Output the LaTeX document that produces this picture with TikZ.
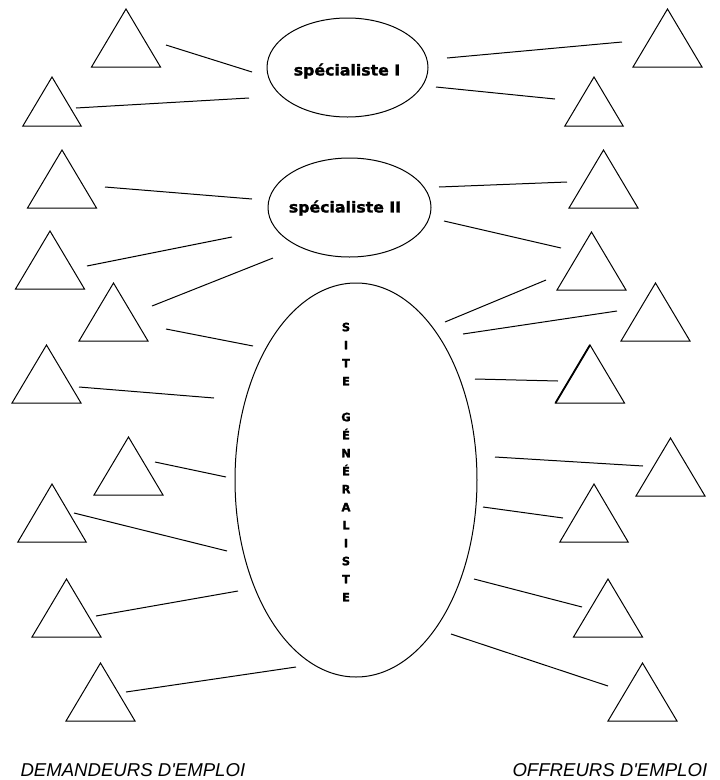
\documentclass[tikz,border=0pt]{standalone}
\usepackage{fontspec}
\usetikzlibrary{shapes.geometric}
\newfontfamily\heavyfont[BoldFeatures={FakeBold=1.6}]{DejaVu Sans}
\newfontfamily\captionfont{Liberation Sans}
\begin{document}
\begin{tikzpicture}[x=1pt,y=-1pt,
  every path/.style={line width=1pt},
  link/.style={draw=black, line width=1pt},
  oval/.style={ellipse, draw=black, line width=1pt, inner sep=0pt},
  ovaltext/.style={font=\heavyfont\bfseries\fontsize{15}{18}\selectfont},
  vtext/.style={font=\heavyfont\bfseries\fontsize{11.5}{18}\selectfont, align=center, inner sep=0pt},
  groupname/.style={font=\captionfont\itshape\fontsize{18.6}{20}\selectfont, inner sep=0pt},
  tri/.pic={\draw[line width=1pt, line join=miter] (0,0) -- (-34.5,58) -- (34.5,58) -- cycle;}
]
\useasboundingbox (0,0) rectangle (720,780);
\fill[white] (0,0) rectangle (720,780);

% ellipses
\node[oval, minimum width=161pt, minimum height=99pt] (spec1) at (347.5,67.5) {};
\node[ovaltext] (spec1t) at (347,71) {\scalebox{1.05}[1]{spécialiste I}};
\node[oval, minimum width=163pt, minimum height=99pt] (spec2) at (349.5,207.5) {};
\node[ovaltext] (spec2t) at (345,208) {\scalebox{1.05}[1]{spécialiste II}};
\node[oval, minimum width=242pt, minimum height=394pt] (site) at (356,480) {};
\node[vtext] (sitet) at (346,462) {S\\I\\T\\E\\[18pt]G\\É\\N\\É\\R\\A\\L\\I\\S\\T\\E};

% left triangles (demandeurs)
\pic at (126,9) {tri};
\pic[scale=0.845] at (52,77) {tri};
\pic at (62,150) {tri};
\pic at (50,231) {tri};
\pic at (113.5,283) {tri};
\pic at (46.5,345) {tri};
\pic at (128.5,437) {tri};
\pic[xscale=0.99] at (52,484) {tri};
\pic at (66.5,579) {tri};
\pic at (100.5,663) {tri};

% right triangles (offreurs)
\pic at (667.5,9) {tri};
\pic[scale=0.845] at (594,77) {tri};
\pic at (603.5,150) {tri};
\pic at (591.5,232) {tri};
\pic at (655.5,283) {tri};
\pic at (590,345) {tri};
\draw[line width=1.8pt] (590,345) -- (555.5,403);
\pic at (670.5,438) {tri};
\pic[xscale=0.99] at (594,484) {tri};
\pic at (608,579) {tri};
\pic at (642.5,663) {tri};

% connector end points, left
\coordinate (l1a) at (166,45);  \coordinate (l1b) at (252,72);
\coordinate (l2a) at (76,108);  \coordinate (l2b) at (249,98);
\coordinate (l3a) at (105,187); \coordinate (l3b) at (252,199);
\coordinate (l4a) at (87,266);  \coordinate (l4b) at (232,237);
\coordinate (l5a) at (152,306); \coordinate (l5b) at (273,258);
\coordinate (l6a) at (166,329); \coordinate (l6b) at (253,346);
\coordinate (l7a) at (79,387);  \coordinate (l7b) at (214,398);
\coordinate (l8a) at (155,462); \coordinate (l8b) at (226,477);
\coordinate (l9a) at (74,513);  \coordinate (l9b) at (227,551);
\coordinate (l10a) at (96,616); \coordinate (l10b) at (238,591);
\coordinate (l11a) at (126,692); \coordinate (l11b) at (296,667);
% right
\coordinate (r1a) at (447,58);  \coordinate (r1b) at (622,42);
\coordinate (r2a) at (436,87);  \coordinate (r2b) at (555,99);
\coordinate (r3a) at (439,187); \coordinate (r3b) at (567,182);
\coordinate (r4a) at (444,221); \coordinate (r4b) at (561,248);
\coordinate (r5a) at (445,322); \coordinate (r5b) at (546,280);
\coordinate (r6a) at (463,334); \coordinate (r6b) at (617,311);
\coordinate (r7a) at (475,379); \coordinate (r7b) at (558,381);
\coordinate (r8a) at (495,457); \coordinate (r8b) at (643,466);
\coordinate (r9a) at (483,507); \coordinate (r9b) at (563,518);
\coordinate (r10a) at (474,579); \coordinate (r10b) at (582,607);
\coordinate (r11a) at (451,634); \coordinate (r11b) at (608,686);

\foreach \n in {1,...,11} {
  \draw[link] (l\n a) -- (l\n b);
  \draw[link] (r\n a) -- (r\n b);
}

% group labels
\node[groupname, anchor=base west] (dem) at (20,776) {DEMANDEURS D'EMPLOI};
\node[groupname, anchor=base west] (off) at (512,776.5) {OFFREURS D'EMPLOI};
\end{tikzpicture}
\end{document}
